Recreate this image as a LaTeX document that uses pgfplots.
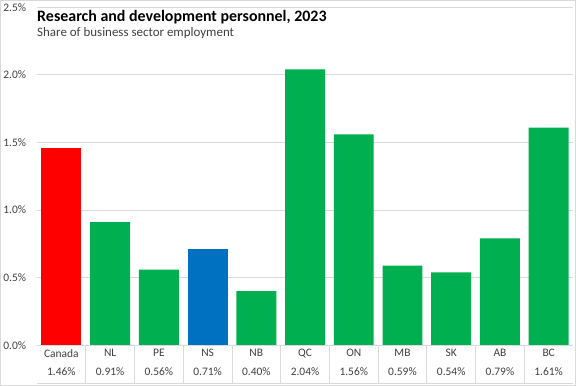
\documentclass[border=0pt]{standalone}
\usepackage{pgfplots}
\pgfplotsset{compat=1.18}
\usepackage{fontspec}
\setmainfont{Carlito}
\definecolor{cred}{HTML}{FF0000}
\definecolor{cgreen}{HTML}{00B050}
\definecolor{cblue}{HTML}{0070C0}
\definecolor{gridc}{HTML}{D9D9D9}
\definecolor{txt}{HTML}{404040}
\begin{document}
\begin{tikzpicture}[x=1bp,y=1bp]
\draw[gridc, line width=0.75bp] (0.4,0.4) rectangle (575.6,384.6);
\begin{axis}[
  at={(37bp,40bp)}, anchor=south west,
  scale only axis, width=536bp, height=338bp,
  xmin=-0.5, xmax=10.5, ymin=0, ymax=2.5,
  ytick={0,0.5,1,1.5,2,2.5},
  yticklabel={\pgfmathprintnumber[fixed,fixed zerofill,precision=1]{\tick}\%},
  /pgf/number format/assume math mode=true,
  yticklabel style={font=\fontsize{11.5}{13}\selectfont, text=txt, xshift=-7.5bp},
  xtick={0,...,10},
  xticklabels={{Canada\\1.46\%},{NL\\0.91\%},{PE\\0.56\%},{NS\\0.71\%},{NB\\0.40\%},{QC\\2.04\%},{ON\\1.56\%},{MB\\0.59\%},{SK\\0.54\%},{AB\\0.79\%},{BC\\1.61\%}},
  xticklabel style={align=center, font=\fontsize{11.5}{18.5}\selectfont, text=txt, yshift=-0.5bp},
  major tick length=0pt,
  ymajorgrids, grid style={gridc, line width=0.75bp},
  axis line style={draw=none},
  ybar, bar width=0.82, 
  every axis plot/.append style={bar shift=0pt, draw=none},
  clip=false,
]
\addplot[fill=cred] coordinates {(0,1.46)};
\addplot[fill=cgreen] coordinates {(1,0.91) (2,0.56) (4,0.40) (5,2.04) (6,1.56) (7,0.59) (8,0.54) (9,0.79) (10,1.61)};
\addplot[fill=cblue] coordinates {(3,0.71)};
\end{axis}
\draw[gridc, line width=0.75bp] (37,40) -- (573,40);
\draw[gridc, line width=0.75bp] (37,2) -- (573,2);
\foreach \k in {1,...,10} \draw[gridc, line width=0.75bp] ({37+48.727*\k},40) -- ({37+48.727*\k},2);
\node[anchor=base west, inner sep=0, font=\fontsize{16}{18}\bfseries\selectfont] at (37,364) {Research and development personnel, 2023};
\node[anchor=base west, inner sep=0, font=\fontsize{13}{15}\selectfont, text=txt] at (37,349) {Share of business sector employment};
\end{tikzpicture}
\end{document}
